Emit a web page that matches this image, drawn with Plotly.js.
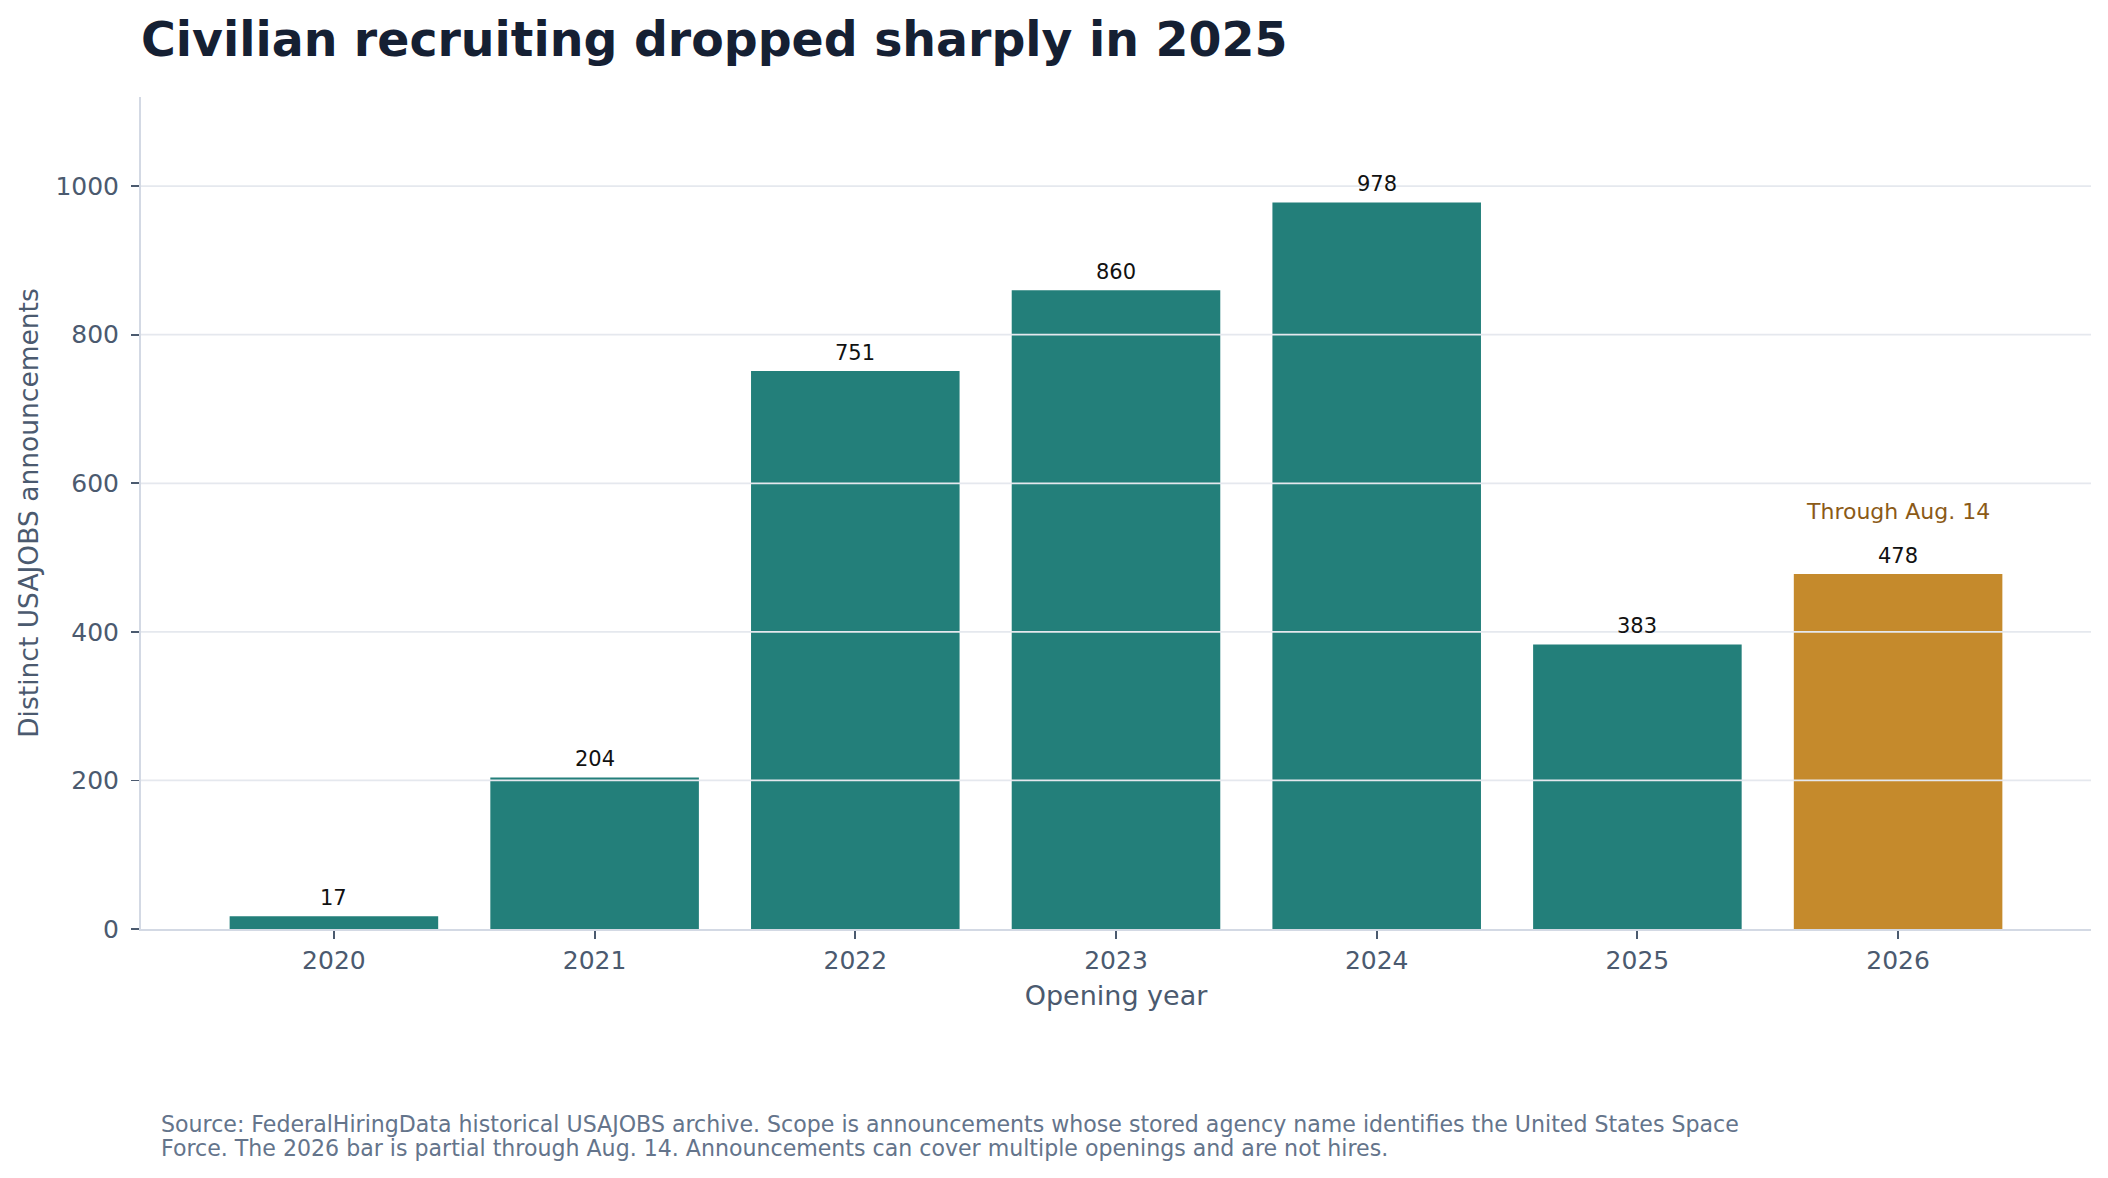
<!DOCTYPE html>
<html>
<head>
<meta charset="utf-8">
<script src="https://cdn.plot.ly/plotly-3.0.1.min.js"></script>
<style>
  html, body { margin: 0; padding: 0; background: #ffffff; }
  #chart { width: 2108px; height: 1178px; }
</style>
</head>
<body>
<div id="chart"></div>
<script>
// ---- data ----
const years = ["2020", "2021", "2022", "2023", "2024", "2025", "2026"];
const announcements = [17, 204, 751, 860, 978, 383, 478];
const partialYear = "2026";
const partialNote = "Through Aug. 14";
const yTicks = [0, 200, 400, 600, 800, 1000];
const chartTitle = "Civilian recruiting dropped sharply in 2025";
const xTitle = "Opening year";
const yTitle = "Distinct USAJOBS announcements";
const footerLines = [
  "Source: FederalHiringData historical USAJOBS archive. Scope is announcements whose stored agency name identifies the United States Space",
  "Force. The 2026 bar is partial through Aug. 14. Announcements can cover multiple openings and are not hires."
];

// ---- styles ----
const TEAL = "#237f7a";
const GOLD = "#c58a2c";
const FONT = "DejaVu Sans, Verdana, sans-serif";
const AXIS_TXT = "#4b5a6f";

const W = 2108, H = 1178;
const M = { l: 141, r: 17, t: 97, b: 249 };

const barColors = years.map(y => (y === partialYear ? GOLD : TEAL));

const trace = {
  type: "bar",
  x: years,
  y: announcements,
  width: 0.8,
  marker: { color: barColors, line: { width: 0 } },
  hoverinfo: "x+y"
};

const annotations = [];
years.forEach((yr, i) => {
  annotations.push({
    x: i, y: announcements[i], xref: "x", yref: "y",
    text: String(announcements[i]),
    showarrow: false, yanchor: "middle", xanchor: "center", yshift: 18,
    font: { family: FONT, size: 21, color: "#111111" }
  });
});
const pIdx = years.indexOf(partialYear);
annotations.push({
  x: pIdx, y: announcements[pIdx], xref: "x", yref: "y",
  text: partialNote, showarrow: false, yanchor: "middle", xanchor: "center", yshift: 62,
  font: { family: FONT, size: 22, color: "#8b5a17" }
});
const plotH = H - M.t - M.b;
const footerY = [1124, 1148];
footerLines.forEach((line, i) => {
  annotations.push({
    xref: "paper", yref: "paper",
    x: (159 - M.l) / (W - M.l - M.r), y: (H - M.b - footerY[i]) / plotH,
    xanchor: "left", yanchor: "middle", align: "left",
    text: line, showarrow: false,
    font: { family: FONT, size: 22.1, color: "#64748b" }
  });
});

// gridlines drawn above bars
const shapes = yTicks.filter(v => v > 0).map(v => ({
  type: "line", xref: "paper", yref: "y", x0: 0, x1: 1, y0: v, y1: v,
  layer: "above", line: { color: "#e5e8ee", width: 1.7 }
}));

const layout = {
  width: W, height: H,
  margin: M,
  paper_bgcolor: "#ffffff",
  plot_bgcolor: "#ffffff",
  showlegend: false,
  font: { family: FONT, color: AXIS_TXT },
  title: {
    text: "<b>" + chartTitle + "</b>",
    font: { family: FONT, size: 47.4, color: "#152033" },
    xref: "container", yref: "container",
    x: M.l / W, xanchor: "left",
    y: 1 - 23 / H, yanchor: "top"
  },
  xaxis: {
    type: "category",
    range: [-0.74, 6.74],
    showgrid: false,
    showline: true, linecolor: "#d3d9e4", linewidth: 2.4,
    ticks: "outside", ticklen: 8, tickwidth: 1.8, tickcolor: AXIS_TXT,
    tickfont: { family: FONT, size: 25, color: AXIS_TXT },
    title: { text: xTitle, font: { family: FONT, size: 27, color: AXIS_TXT }, standoff: 12 },
    zeroline: false, fixedrange: true
  },
  yaxis: {
    range: [0, 1120],
    tickvals: yTicks,
    ticktext: yTicks.map(String),
    showgrid: false,
    showline: true, linecolor: "#d3d9e4", linewidth: 2,
    ticks: "outside", ticklen: 8, tickwidth: 1.8, tickcolor: AXIS_TXT,
    ticklabelstandoff: 7,
    tickfont: { family: FONT, size: 25, color: AXIS_TXT },
    title: { text: yTitle, font: { family: FONT, size: 26.5, color: AXIS_TXT }, standoff: 9 },
    zeroline: false, fixedrange: true
  },
  bargap: 0.2,
  annotations: annotations,
  shapes: shapes
};

Plotly.newPlot("chart", [trace], layout, { displayModeBar: false, staticPlot: true });
</script>
</body>
</html>
